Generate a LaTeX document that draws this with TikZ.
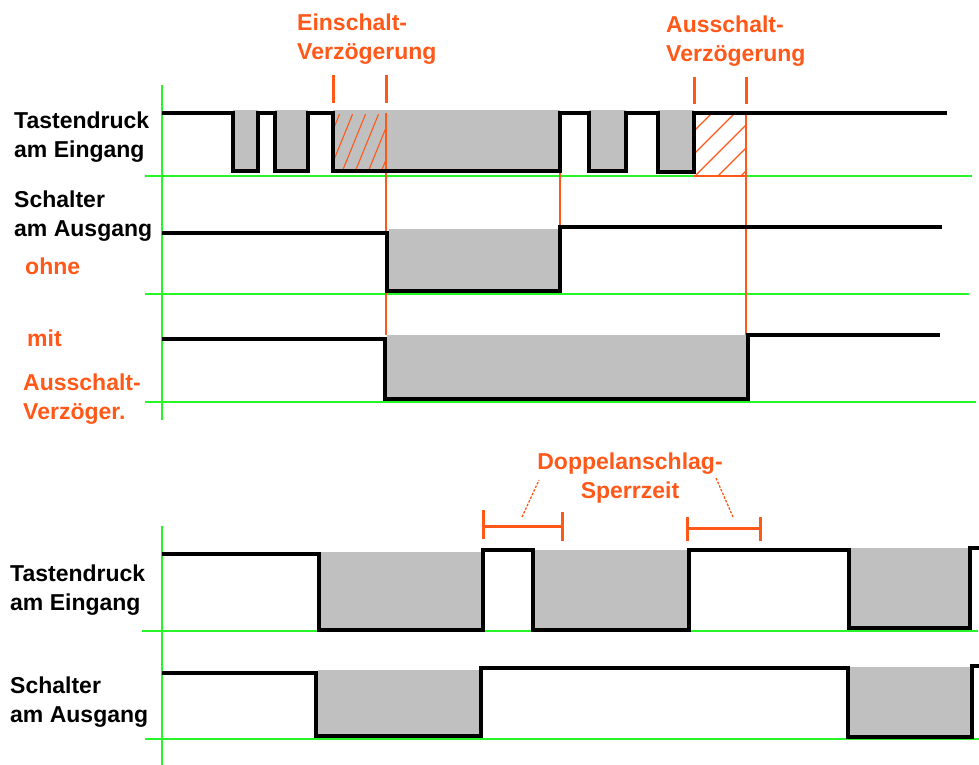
\documentclass[tikz,border=0pt]{standalone}
\usepackage{fontspec}
\setmainfont{Liberation Sans}
\definecolor{orng}{RGB}{255,88,24}
\definecolor{grn}{RGB}{40,245,40}
\definecolor{lowgray}{RGB}{192,192,192}
\tikzset{
  sig/.style={line width=3.5pt},
  low/.style={fill=lowgray},
  axis/.style={grn, line width=1.6pt},
  mark line/.style={orng, line width=1.3pt},
  tick/.style={orng, line width=3pt},
  lbl/.style={font=\fontsize{23}{28.5}\selectfont\bfseries, align=left, anchor=west, inner sep=0pt},
  olbl/.style={lbl, text=orng}
}
\begin{document}
\begin{tikzpicture}[x=1pt,y=-1pt]
\useasboundingbox (0,0) rectangle (979,765);
% upper diagram: gray low phases
\path[low] (233,110) rectangle (258,172);
\path[low] (275,110) rectangle (308,172);
\path[low] (333,110) rectangle (560,172);
\path[low] (589,110) rectangle (626,172);
\path[low] (658,110) rectangle (694,172);
\path[low] (389,229) rectangle (560,291);
\path[low] (387,335) rectangle (748,399);
% hatching of the delays
\begin{scope}
\clip (335,115) rectangle (386,170);
\foreach \x in {290,303,...,390} \draw[orng, line width=1.1pt] (\x,172) -- (\x+24,113);
\end{scope}
\begin{scope}
\clip (696,115) rectangle (746,176);
\foreach \x in {626,649,...,760} \draw[orng, line width=1.1pt] (\x,176) -- (\x+63,113);
\end{scope}
% axes
\draw[axis] (162,85) -- (162,420);
\draw[axis] (145,176) -- (972,176);
\draw[axis] (145,294) -- (969,294);
\draw[axis] (145,402) -- (976,402);
% delay markers
\draw[mark line] (386,113) -- (386,335);
\draw[mark line] (560,172) -- (560,228);
\draw[mark line] (746,113) -- (746,335);
\draw[mark line] (694,176) -- (746,176);
\draw[tick] (333,75) -- (333,103);
\draw[tick] (386,75) -- (386,103);
\draw[tick] (694,77) -- (694,104);
\draw[tick] (746,77) -- (746,104);
% signals
\draw[sig] (162,113) -- (233,113) -- (233,171) -- (258,171) -- (258,113) -- (275,113) -- (275,171)
  -- (308,171) -- (308,113) -- (333,113) -- (333,171) -- (560,171) -- (560,113) -- (589,113)
  -- (589,171) -- (626,171) -- (626,113) -- (658,113) -- (658,172) -- (694,172) -- (694,113) -- (947,113);
\draw[sig] (162,233) -- (387,233) -- (387,291) -- (560,291) -- (560,227) -- (942,227);
\draw[sig] (162,339) -- (385,339) -- (385,399) -- (748,399) -- (748,335) -- (940,335);
% labels
\node[name=tin, lbl] at (14,137) {Tastendruck\\am Eingang};
\node[name=sout, lbl] at (14,216) {Schalter\\am Ausgang};
\node[name=ohne, olbl] at (25,266) {ohne};
\node[name=mit, olbl] at (27,338) {mit};
\node[name=mitaus, olbl] at (23,399) {Ausschalt-\\Verzöger.};
\node[name=ein, olbl] at (297,39) {Einschalt-\\Verzögerung};
\node[name=aus, olbl] at (666,41) {Ausschalt-\\Verzögerung};

% lower diagram
\path[low] (320,552) rectangle (483,630);
\path[low] (533,550) rectangle (689,630);
\path[low] (849,548) rectangle (970,628);
\path[low] (318,670) rectangle (481,736);
\path[low] (850,667) rectangle (972,737);
\draw[axis] (162,526) -- (162,765);
\draw[axis] (142,631) -- (978,631);
\draw[axis] (145,739) -- (979,739);
\draw[sig] (162,554) -- (319,554) -- (319,630) -- (483,630) -- (483,550) -- (533,550) -- (533,630)
  -- (689,630) -- (689,550) -- (849,550) -- (849,628) -- (970,628) -- (970,548) -- (979,548);
\draw[sig] (162,673) -- (316,673) -- (316,736) -- (481,736) -- (481,668) -- (848,668) -- (848,737)
  -- (972,737) -- (972,666) -- (979,666);
% lock-out brackets
\coordinate (b1) at (522,517);
\coordinate (b2) at (733,517);
\draw[tick] (483,510) -- (483,539);
\draw[tick] (483,526) -- (562,526);
\draw[tick] (562,512) -- (562,541);
\draw[tick] (687,517) -- (687,541);
\draw[tick] (687,528) -- (760,528);
\draw[tick] (760,517) -- (760,541);
\node[name=sperr, olbl, align=center, anchor=center] at (630,478) {Doppelanschlag-\\Sperrzeit};
\coordinate (s1) at (539,480);
\coordinate (s2) at (716,478);
\draw[orng, line width=1.3pt, dash pattern=on 2.5pt off 1.5pt] (b1) -- (s1);
\draw[orng, line width=1.3pt, dash pattern=on 2.5pt off 1.5pt] (b2) -- (s2);
\node[name=tin2, lbl] at (10,590) {Tastendruck\\am Eingang};
\node[name=sout2, lbl] at (10,702) {Schalter\\am Ausgang};
\end{tikzpicture}
\end{document}
